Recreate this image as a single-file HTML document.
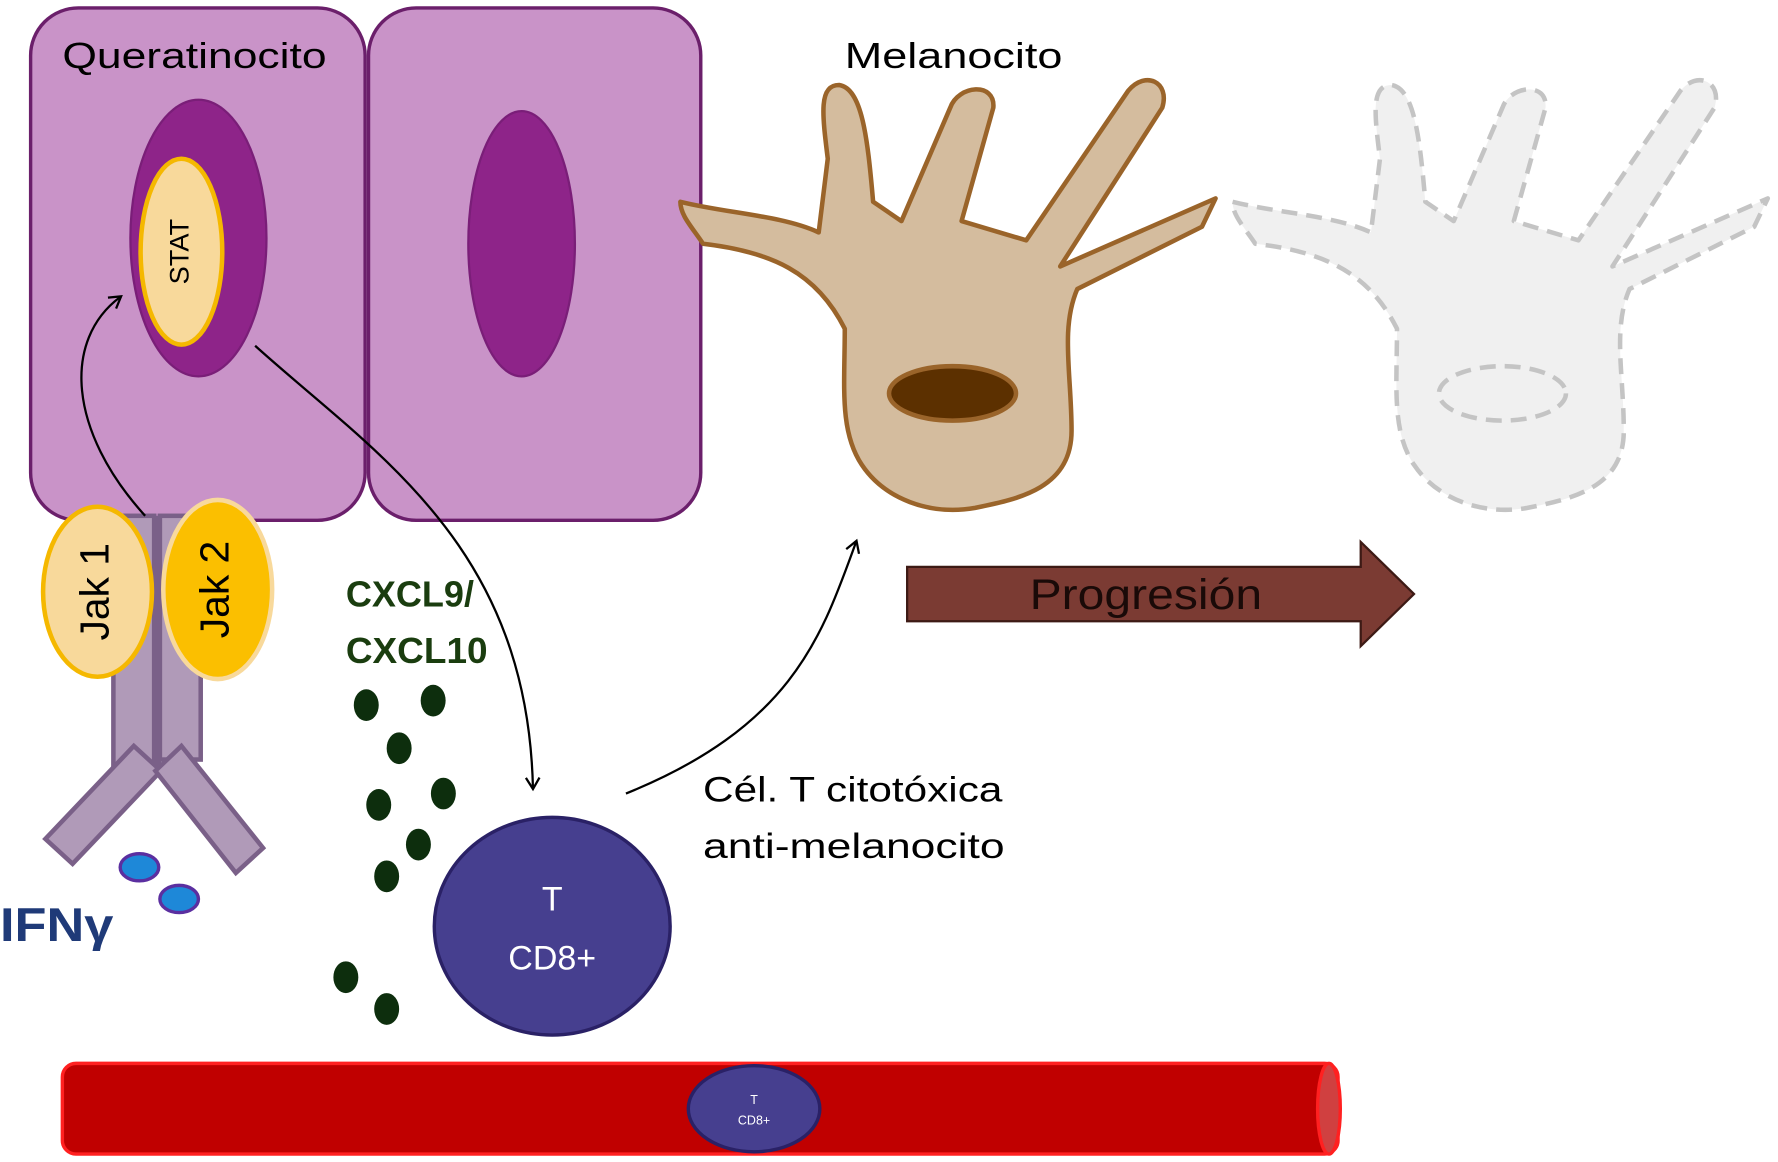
<!DOCTYPE html>
<html><head><meta charset="utf-8"><style>
html,body{margin:0;padding:0;background:#fff;}
svg{display:block;}
text{font-family:"Liberation Sans","DejaVu Sans",sans-serif;}
</style></head><body>
<svg width="1778" height="1162" viewBox="0 0 1568 1025" preserveAspectRatio="none" xmlns="http://www.w3.org/2000/svg">
<defs>
<marker id="ah" markerWidth="14" markerHeight="14" refX="10" refY="7" orient="auto" markerUnits="userSpaceOnUse">
<path d="M1,1 L11,7 L1,13" fill="none" stroke="#000" stroke-width="2"/>
</marker>
</defs>
<rect x="27" y="7" width="295" height="452" rx="42" fill="#c993c8" stroke="#6b1f6b" stroke-width="3"/>
<rect x="325" y="7" width="293" height="452" rx="42" fill="#c993c8" stroke="#6b1f6b" stroke-width="3"/>
<ellipse cx="175" cy="210" rx="60" ry="122" fill="#8e2489" stroke="#7a1e78" stroke-width="2"/>
<ellipse cx="160" cy="222" rx="36" ry="82" fill="#f8d99b" stroke="#f5b800" stroke-width="4"/>
<text x="160" y="222" font-size="24" text-anchor="middle" dominant-baseline="middle" transform="rotate(-90 160 222)">STAT</text>
<ellipse cx="460" cy="215" rx="47" ry="117" fill="#8e2489" stroke="#7a1e78" stroke-width="2"/>
<text x="55" y="60" font-size="32" textLength="233" lengthAdjust="spacingAndGlyphs">Queratinocito</text>
<g fill="#b09ab8" stroke="#7a6088" stroke-width="4">
<rect x="100" y="455" width="36" height="220"/>
<rect x="141" y="455" width="36" height="215"/>
<polygon points="40,740 118,658 142,680 64,762"/>
<polygon points="137,680 160,658 232,748 208,770"/>
</g>
<rect x="134" y="455" width="8" height="220" fill="#7a6088"/>
<ellipse cx="86" cy="522" rx="48" ry="75" fill="#f8d99b" stroke="#f5b800" stroke-width="4"/>
<text x="86" y="522" font-size="36" text-anchor="middle" dominant-baseline="middle" transform="rotate(-90 86 522)">Jak 1</text>
<ellipse cx="192" cy="520" rx="48" ry="79" fill="#fbbf00" stroke="#f8d99b" stroke-width="4"/>
<text x="192" y="520" font-size="36" text-anchor="middle" dominant-baseline="middle" transform="rotate(-90 192 520)">Jak 2</text>
<ellipse cx="123" cy="765" rx="17" ry="12" fill="#1e88d8" stroke="#5b2fa0" stroke-width="3"/>
<ellipse cx="158" cy="793" rx="17" ry="12" fill="#1e88d8" stroke="#5b2fa0" stroke-width="3"/>
<text x="0" y="830" font-size="42" font-weight="bold" fill="#1f3a78" textLength="100" lengthAdjust="spacingAndGlyphs">IFNγ</text>
<text x="305" y="535" font-size="32" font-weight="bold" fill="#1a3d0f" textLength="113" lengthAdjust="spacingAndGlyphs">CXCL9/</text>
<text x="305" y="585" font-size="32" font-weight="bold" fill="#1a3d0f" textLength="125" lengthAdjust="spacingAndGlyphs">CXCL10</text>
<g fill="#0d2e0d">
<ellipse cx="323" cy="622" rx="11" ry="14"/><ellipse cx="382" cy="618" rx="11" ry="14"/>
<ellipse cx="352" cy="660" rx="11" ry="14"/><ellipse cx="334" cy="710" rx="11" ry="14"/>
<ellipse cx="391" cy="700" rx="11" ry="14"/><ellipse cx="369" cy="745" rx="11" ry="14"/>
<ellipse cx="341" cy="773" rx="11" ry="14"/><ellipse cx="305" cy="862" rx="11" ry="14"/>
<ellipse cx="341" cy="890" rx="11" ry="14"/>
</g>
<ellipse cx="487" cy="817" rx="104" ry="96" fill="#463f8f" stroke="#2a2166" stroke-width="3"/>
<text x="487" y="803" font-size="30" fill="#fff" text-anchor="middle">T</text>
<text x="487" y="855" font-size="30" fill="#fff" text-anchor="middle">CD8+</text>
<text x="620" y="707" font-size="31" textLength="264" lengthAdjust="spacingAndGlyphs">Cél. T citotóxica</text>
<text x="620" y="757" font-size="31" textLength="266" lengthAdjust="spacingAndGlyphs">anti-melanocito</text>
<rect x="55" y="938" width="1125" height="80" rx="12" fill="#c00000" stroke="#ff2020" stroke-width="3"/>
<ellipse cx="1172" cy="978" rx="10" ry="40" fill="#d04040" stroke="#ff2020" stroke-width="3"/>
<ellipse cx="665" cy="978" rx="58" ry="38" fill="#463f8f" stroke="#2a2166" stroke-width="3"/>
<text x="665" y="974" font-size="11" fill="#fff" text-anchor="middle">T</text>
<text x="665" y="992" font-size="11" fill="#fff" text-anchor="middle">CD8+</text>
<path d="M600,178 C640,188 690,190 722,205 L730,140 C725,100 722,75 740,75 C760,78 765,120 770,178 L795,195 L838,95 C845,75 878,72 876,95 L848,195 L905,212 L995,80 C1010,62 1032,72 1025,95 L935,235 L1072,175 L1060,200 L950,255 C935,290 945,330 945,380 C945,430 900,440 860,448 C820,455 780,440 760,410 C740,380 745,340 745,290 C720,240 680,222 620,215 C610,200 600,190 600,178 Z" fill="#d4bc9e" stroke="#9a642a" stroke-width="4" stroke-linejoin="round"/>
<ellipse cx="840" cy="347" rx="56" ry="24" fill="#5c3000" stroke="#9a642a" stroke-width="4"/>
<text x="745" y="60" font-size="32" textLength="192" lengthAdjust="spacingAndGlyphs">Melanocito</text>
<g transform="translate(487,0)">
<path d="M600,178 C640,188 690,190 722,205 L730,140 C725,100 722,75 740,75 C760,78 765,120 770,178 L795,195 L838,95 C845,75 878,72 876,95 L848,195 L905,212 L995,80 C1010,62 1032,72 1025,95 L935,235 L1072,175 L1060,200 L950,255 C935,290 945,330 945,380 C945,430 900,440 860,448 C820,455 780,440 760,410 C740,380 745,340 745,290 C720,240 680,222 620,215 C610,200 600,190 600,178 Z" fill="#f0f0f0" stroke="#c4c4c4" stroke-width="4" stroke-dasharray="14,8" stroke-linejoin="round"/>
<ellipse cx="838" cy="347" rx="56" ry="24" fill="none" stroke="#c4c4c4" stroke-width="4" stroke-dasharray="14,8"/>
</g>
<polygon points="800,500 1200,500 1200,478 1247,524 1200,570 1200,548 800,548" fill="#7b3b33" stroke="#3d1a15" stroke-width="2"/>
<text x="908" y="537" font-size="38" fill="#1a0a08" textLength="205" lengthAdjust="spacingAndGlyphs">Progresión</text>
<g fill="none" stroke="#000" stroke-width="2" marker-end="url(#ah)">
<path d="M128,455 C60,380 55,300 106,262"/>
<path d="M225,305 C330,400 465,480 470,695"/>
<path d="M552,700 C700,640 725,560 755,478"/>
</g>
</svg>
</body></html>
